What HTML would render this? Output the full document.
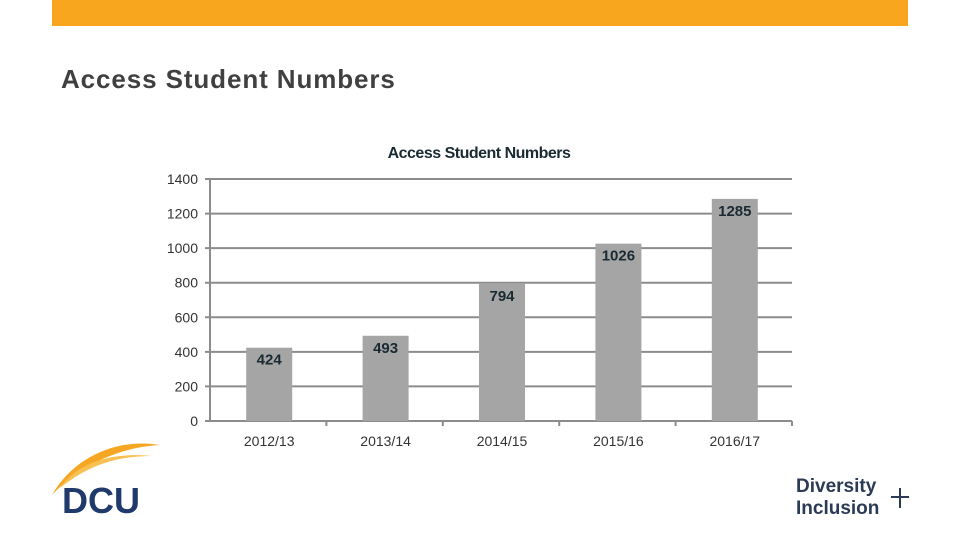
<!DOCTYPE html>
<html><head><meta charset="utf-8"><style>
body{margin:0;width:960px;height:540px;background:#fff;overflow:hidden;font-family:"Liberation Sans",sans-serif;position:relative}
.abs{position:absolute}
</style></head><body>
<div class="abs" style="left:52px;top:0;width:856px;height:26px;background:#f9a61f"></div>
<div class="abs" style="left:61px;top:64px;font-size:26px;font-weight:bold;letter-spacing:0.9px;color:#404040">Access Student Numbers</div>
<svg class="abs" style="left:0;top:0" width="960" height="540">
<text x="479" y="158" text-anchor="middle" font-size="16" font-weight="bold" fill="#1a2a33" letter-spacing="-0.5">Access Student Numbers</text>
<g id="grid"></g><g id="bars"></g><g id="labels"></g>
<g>
<path d="M52,495 C75,455 120,438 160,445 C120,447 80,465 52,495Z" fill="#f5a623"/>
<path d="M60,488 C78,462 112,452 152,456 C112,456 85,468 60,488Z" fill="#f8c050"/>
<text x="62" y="513" font-size="36" font-weight="bold" fill="#1f3a6b" font-family="Liberation Sans Narrow, Liberation Sans, sans-serif">DCU</text>
</g>
<g>
<text x="796" y="492" font-size="19" font-weight="bold" fill="#2b3a55">Diversity</text>
<text x="796" y="514" font-size="19" font-weight="bold" fill="#2b3a55">Inclusion</text>
<path d="M891,497 h18 M900,488 v20" stroke="#2b3a55" stroke-width="2"/>
</g>
</svg>
<script>
const categories=["2012/13","2013/14","2014/15","2015/16","2016/17"];
const values=[424,493,794,1026,1285];
const yTicks=[0,200,400,600,800,1000,1200,1400];
const ns="http://www.w3.org/2000/svg";
const X0=210,X1=792,Y0=421,Y1=179,YMAX=1400;
const y=v=>Y0-(v/YMAX)*(Y0-Y1);
const step=(X1-X0)/categories.length;
const xc=i=>X0+step*(i+0.5)+1;
function mk(t,a,p){const e=document.createElementNS(ns,t);for(const k in a)e.setAttribute(k,a[k]);p.appendChild(e);return e;}
const grid=document.getElementById('grid'),bars=document.getElementById('bars'),labels=document.getElementById('labels');
yTicks.forEach(t=>{
 const l=mk('line',{x1:X0-5,x2:X1,y1:y(t),y2:y(t),stroke:'#8c8c8c','stroke-width':2},grid);
 
 
 const tx=mk('text',{x:198,y:y(t)+5,'text-anchor':'end','font-size':14,fill:'#333'},grid);
 tx.textContent=t;
 
 
});
mk('line',{x1:X0,x2:X0,y1:Y1,y2:Y0,stroke:'#8c8c8c','stroke-width':2},grid);
categories.forEach((c,i)=>{
 mk('line',{x1:X0+step*(i+1),x2:X0+step*(i+1),y1:Y0,y2:Y0+5,stroke:'#8c8c8c','stroke-width':2},grid);
 const r=mk('rect',{x:xc(i)-23,y:y(values[i]),width:46,height:Y0-y(values[i]),fill:'#a5a5a5'},bars);
 
 
 const v=mk('text',{x:xc(i),y:y(values[i])+17,'text-anchor':'middle','font-size':15,'font-weight':'bold',fill:'#1a2a33'},labels);
 v.textContent=values[i];
 
 
 const cl=mk('text',{x:xc(i),y:446,'text-anchor':'middle','font-size':14,fill:'#333'},labels);
 cl.textContent=c;
 
 
});
</script>
</body></html>
